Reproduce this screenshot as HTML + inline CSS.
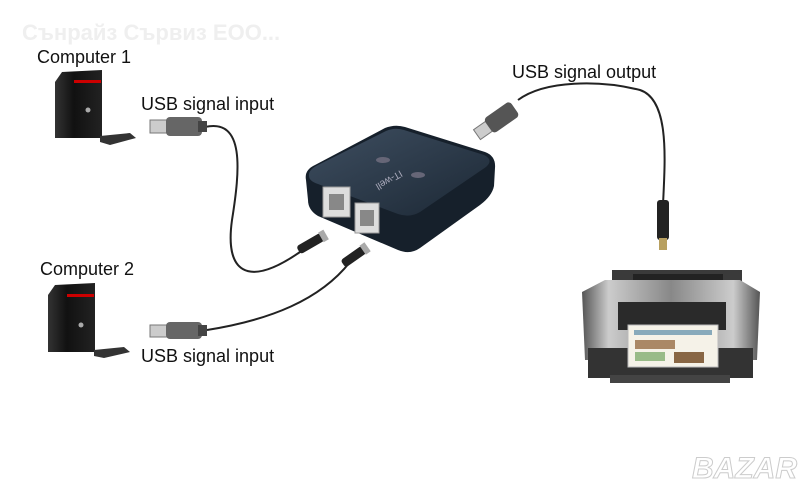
<!DOCTYPE html>
<html><head><meta charset="utf-8"><style>
html,body{margin:0;padding:0;background:#fff;}
svg{display:block;}
text{font-family:"Liberation Sans","DejaVu Sans",sans-serif;}
</style></head><body>
<svg width="800" height="496" viewBox="0 0 800 496" xmlns="http://www.w3.org/2000/svg">
<defs>
<linearGradient id="tw" x1="0" x2="1"><stop offset="0" stop-color="#333"/><stop offset="0.4" stop-color="#111"/><stop offset="1" stop-color="#222"/></linearGradient>
<linearGradient id="pr" x1="0" x2="1"><stop offset="0" stop-color="#555"/><stop offset="0.15" stop-color="#ccc"/><stop offset="0.5" stop-color="#888"/><stop offset="0.85" stop-color="#ccc"/><stop offset="1" stop-color="#555"/></linearGradient>
<linearGradient id="sw" x1="0" y1="0" x2="1" y2="1"><stop offset="0" stop-color="#3e4e60"/><stop offset="1" stop-color="#1c2835"/></linearGradient>
</defs>
<rect width="800" height="496" fill="#fff"/>
<text x="22" y="40" font-size="22" font-weight="bold" fill="#efefef">Сънрайз Сървиз ЕОО...</text>
<text x="37" y="63" font-size="18" fill="#111">Computer 1</text>
<text x="40" y="275" font-size="18" fill="#111">Computer 2</text>
<text x="141" y="110" font-size="18" fill="#111">USB signal input</text>
<text x="141" y="362" font-size="18" fill="#111">USB signal input</text>
<text x="512" y="78" font-size="18" fill="#111">USB signal output</text>

<g>
<polygon points="55,82 62,72 102,70 102,138 55,138" fill="url(#tw)"/>
<rect x="74" y="80" width="27" height="3" fill="#c00"/>
<circle cx="88" cy="110" r="2.5" fill="#aaa"/>
<path d="M100,136 L130,133 L136,138 L110,145 L100,142 Z" fill="#333"/>
</g>
<g>
<polygon points="48,295 55,285 95,283 95,352 48,352" fill="url(#tw)"/>
<rect x="67" y="294" width="27" height="3" fill="#c00"/>
<circle cx="81" cy="325" r="2.5" fill="#aaa"/>
<path d="M94,350 L124,347 L130,352 L104,358 L94,356 Z" fill="#333"/>
</g>

<path d="M205,127 C245,118 240,170 232,220 C225,270 245,290 300,252" fill="none" stroke="#222" stroke-width="2"/>
<path d="M207,330 C270,320 320,300 350,262" fill="none" stroke="#222" stroke-width="2"/>
<path d="M518,100 C545,80 600,80 640,90 C670,100 665,160 663,205" fill="none" stroke="#222" stroke-width="2"/>

<g><rect x="150" y="120" width="18" height="13" fill="#ccc" stroke="#777"/><rect x="166" y="117" width="36" height="19" rx="4" fill="#666"/><rect x="198" y="121" width="9" height="11" fill="#444"/></g>
<g><rect x="150" y="325" width="18" height="12" fill="#ccc" stroke="#777"/><rect x="166" y="322" width="36" height="17" rx="4" fill="#666"/><rect x="198" y="325" width="9" height="11" fill="#444"/></g>
<g transform="rotate(-35 495 122)"><rect x="473" y="116" width="16" height="12" fill="#ccc" stroke="#777"/><rect x="487" y="113" width="32" height="18" rx="4" fill="#555"/></g>
<g transform="rotate(-30 312 242)"><rect x="296" y="238" width="28" height="9" rx="3" fill="#222"/><rect x="322" y="237" width="6" height="11" fill="#aaa"/></g>
<g transform="rotate(-35 355 255)"><rect x="340" y="251" width="26" height="9" rx="3" fill="#222"/><rect x="364" y="250" width="6" height="11" fill="#aaa"/></g>
<rect x="657" y="200" width="12" height="40" rx="3" fill="#222"/>
<rect x="659" y="238" width="8" height="12" fill="#b8a060"/>

<!-- switch -->
<path d="M306,180 Q304,170 315,165 L385,128 Q395,124 405,127 L485,152 Q496,156 495,168 L494,186 Q492,196 480,205 L420,248 Q410,255 398,250 L318,216 Q308,210 308,200 Z" fill="#16202b"/>
<path d="M309,176 Q308,170 318,165 L386,131 Q395,127 404,130 L484,155 Q494,160 486,167 L420,212 Q410,218 398,214 L318,184 Q309,181 309,176 Z" fill="url(#sw)"/>
<rect x="323" y="187" width="27" height="30" fill="#ddd" stroke="#999"/>
<rect x="329" y="194" width="15" height="16" fill="#888"/>
<rect x="355" y="203" width="24" height="30" fill="#ddd" stroke="#999"/>
<rect x="360" y="210" width="14" height="16" fill="#888"/>
<text x="0" y="0" font-size="10" fill="#aab" transform="translate(400,170) rotate(150)">IT-well</text>
<ellipse cx="383" cy="160" rx="7" ry="3" fill="#667"/>
<ellipse cx="418" cy="175" rx="7" ry="3" fill="#667"/>

<g>
<rect x="612" y="270" width="130" height="20" fill="#3a3a3a"/>
<rect x="633" y="274" width="90" height="14" fill="#222"/>
<polygon points="582,292 605,280 740,280 760,292 757,360 585,360" fill="url(#pr)"/>
<rect x="618" y="302" width="108" height="28" fill="#2a2a2a"/>
<rect x="588" y="348" width="165" height="30" fill="#333"/>
<rect x="628" y="325" width="90" height="42" fill="#f5f2e8" stroke="#bbb"/>
<rect x="635" y="340" width="40" height="9" fill="#a86"/>
<rect x="674" y="352" width="30" height="11" fill="#864"/>
<rect x="635" y="352" width="30" height="9" fill="#9b8"/>
<rect x="634" y="330" width="78" height="5" fill="#8ab"/>
<rect x="610" y="375" width="120" height="8" fill="#444"/>
</g>

<text x="692" y="478" font-size="30" font-weight="bold" fill="#fff" stroke="#ccc" stroke-width="1" font-style="italic">BAZAR</text>
</svg>
</body></html>
